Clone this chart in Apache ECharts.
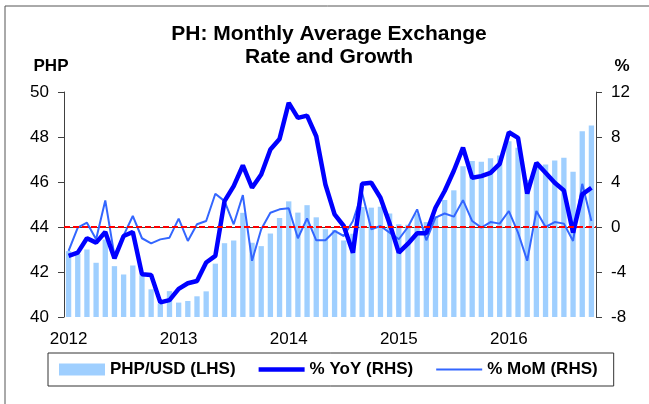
<!DOCTYPE html>
<html>
<head>
<meta charset="utf-8">
<script src="https://cdn.jsdelivr.net/npm/echarts@6/dist/echarts.min.js"></script>
<style>
  html, body { margin: 0; padding: 0; background: #fff; }
  #myChart { width: 649px; height: 404px; }
</style>
</head>
<body>
<div id="myChart"></div>
<script>
// monthly categories, Jan 2012 .. Oct 2016
var startYear = 2012
var monthCount = 58
var months = []
for (var i = 0; i < monthCount; i++) {
  var y = startYear + Math.floor(i / 12)
  var m = (i % 12) + 1
  months.push(y + '-' + (m < 10 ? '0' + m : m))
}

// PHP per USD, monthly average (LHS)
var phpUsd = [
  42.93, 42.81, 43.00, 42.41, 43.44, 42.26, 41.89, 42.29, 41.86, 41.23, 40.60, 41.15,
  40.64, 40.71, 40.92, 41.14, 42.37, 43.28, 43.40, 44.63, 43.30, 43.15, 43.71, 44.40,
  45.14, 44.64, 44.97, 44.43, 43.90, 43.87, 43.40, 43.70, 44.89, 44.86, 44.90, 44.60,
  44.12, 44.10, 44.60, 44.22, 44.49, 45.20, 45.63, 46.70, 46.93, 46.90, 47.06, 47.18,
  47.81, 47.52, 46.10, 46.75, 46.78, 46.96, 47.08, 46.46, 48.26, 48.51
]
// % YoY (RHS)
var yoy = [
  -2.57, -2.28, -1.00, -1.39, -0.44, -2.78, -0.80, -0.44, -4.20, -4.26, -6.70, -6.50,
  -5.50, -5.00, -4.80, -3.16, -2.57, 2.30, 3.64, 5.47, 3.49, 4.67, 6.89, 7.83,
  11.03, 9.70, 9.90, 8.07, 3.78, 1.12, 0.09, -2.28, 3.84, 3.93, 2.60, 0.30,
  -2.28, -1.48, -0.55, -0.55, 1.71, 3.20, 5.00, 7.05, 4.37, 4.52, 4.82, 5.62,
  8.42, 7.92, 2.96, 5.70, 4.82, 3.93, 3.25, -0.50, 2.90, 3.49
]
// % MoM (RHS)
var mom = [
  -2.13, -0.06, 0.38, -1.09, 2.36, -2.57, -0.74, 0.98, -1.00, -1.45, -1.10, -0.95,
  0.74, -1.24, 0.24, 0.53, 2.96, 2.30, 0.24, 2.84, -3.00, -0.20, 1.27, 1.57,
  1.66, -1.00, 0.77, -1.18, -1.18, -0.35, -0.80, 0.53, 3.04, -0.20, 0.09, -0.50,
  -1.09, 0.00, 1.57, -1.18, 0.83, 1.20, 0.92, 2.39, 0.53, -0.06, 0.44, 0.30,
  1.42, -0.50, -3.00, 1.42, 0.00, 0.44, 0.30, -1.24, 3.84, 0.53
]

var FONT = '"Liberation Sans", Arial, sans-serif'
// legend icons for the lines: a plain bar of the line's thickness inside a 46x12 box
var thickIcon = 'path://M0,0M0,12M0,3.7L46,3.7L46,8.3L0,8.3Z'
var thinIcon = 'path://M0,0M0,12M0,5L46,5L46,7L0,7Z'

var myChart = echarts.init(document.getElementById('myChart'), null, { renderer: 'canvas' })

myChart.setOption({
  animation: false,
  textStyle: { fontFamily: FONT },
  grid: { left: 64, right: 53, top: 92, bottom: 87 },
  graphic: [
    { type: 'rect', shape: { x: 5, y: 6, width: 700, height: 500 }, style: { fill: 'none', stroke: '#555', lineWidth: 1 }, silent: true },
    { type: 'text', x: 329, y: 23, style: { text: 'PH: Monthly Average Exchange\nRate and Growth', textAlign: 'center', font: 'bold 21px ' + FONT, fill: '#000', lineHeight: 23 } },
    { type: 'text', x: 51, y: 58, style: { text: 'PHP', textAlign: 'center', font: 'bold 17px ' + FONT, fill: '#000' } },
    { type: 'text', x: 622, y: 58, style: { text: '%', textAlign: 'center', font: 'bold 17px ' + FONT, fill: '#000' } }
  ],
  legend: {
    left: 48,
    top: 353,
    padding: [8, 16, 8, 11],
    borderColor: '#333',
    borderWidth: 1,
    itemWidth: 46,
    itemHeight: 12,
    itemGap: 23,
    textStyle: { fontSize: 17, fontWeight: 'bold', color: '#000', fontFamily: FONT },
    data: [
      { name: 'PHP/USD (LHS)', icon: 'rect' },
      { name: '% YoY (RHS)', icon: thickIcon },
      { name: '% MoM (RHS)', icon: thinIcon }
    ]
  },
  xAxis: {
    type: 'category',
    data: months,
    boundaryGap: true,
    axisLine: { lineStyle: { color: '#404040', width: 1 } },
    axisTick: {
      length: 6,
      lineStyle: { color: '#404040' },
      interval: function (index) { return index % 12 === 0 }
    },
    axisLabel: {
      interval: function (index) { return index % 12 === 0 },
      formatter: function (value) { return value.slice(0, 4) },
      fontSize: 17,
      color: '#000',
      margin: 14
    },
    splitLine: { show: false }
  },
  yAxis: [
    {
      type: 'value',
      min: 40,
      max: 50,
      interval: 2,
      axisLine: { show: true, lineStyle: { color: '#404040' } },
      axisTick: { show: true, length: 6, lineStyle: { color: '#404040' } },
      axisLabel: { fontSize: 17, color: '#000', margin: 15 },
      splitLine: { show: false }
    },
    {
      type: 'value',
      min: -8,
      max: 12,
      interval: 4,
      position: 'right',
      axisLine: { show: true, lineStyle: { color: '#404040' } },
      axisTick: { show: true, length: 6, lineStyle: { color: '#404040' } },
      axisLabel: { fontSize: 17, color: '#000', margin: 15 },
      splitLine: { show: false }
    }
  ],
  series: [
    {
      name: 'PHP/USD (LHS)',
      type: 'bar',
      yAxisIndex: 0,
      data: phpUsd,
      barCategoryGap: '42%',
      itemStyle: { color: '#9FCFFF' }
    },
    {
      name: '% MoM (RHS)',
      type: 'line',
      yAxisIndex: 1,
      data: mom,
      symbol: 'none',
      lineStyle: { color: '#3366FF', width: 2 },
      itemStyle: { color: '#3366FF' },
      z: 3,
      markLine: {
        silent: true,
        symbol: 'none',
        label: { show: false },
        lineStyle: { color: '#FF0000', width: 2, type: [6, 3] },
        data: [{ yAxis: 0 }]
      }
    },
    {
      name: '% YoY (RHS)',
      type: 'line',
      yAxisIndex: 1,
      data: yoy,
      symbol: 'none',
      lineStyle: { color: '#0000FF', width: 4.5 },
      itemStyle: { color: '#0000FF' },
      z: 4
    }
  ]
})
</script>
</body>
</html>
